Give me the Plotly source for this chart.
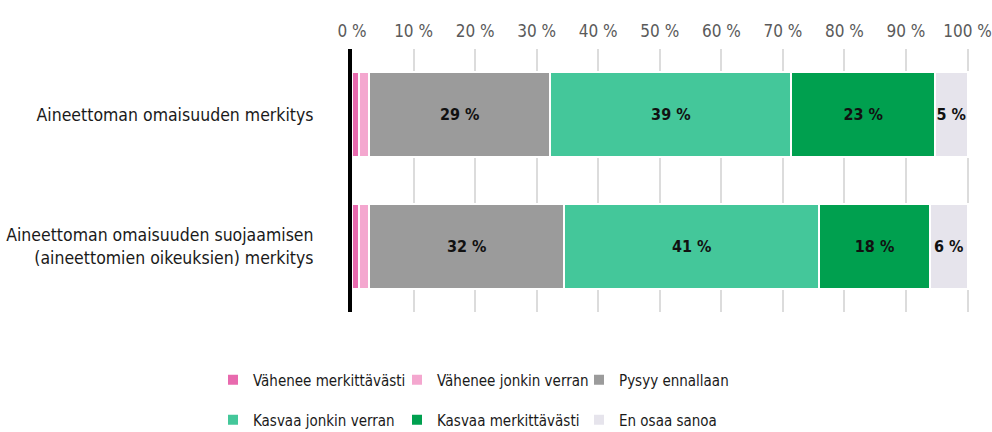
import plotly.graph_objects as go

categories = [
    "Aineettoman omaisuuden merkitys",
    "Aineettoman omaisuuden suojaamisen<br>(aineettomien oikeuksien) merkitys",
]
series_names = [
    "Vähenee merkittävästi",
    "Vähenee jonkin verran",
    "Pysyy ennallaan",
    "Kasvaa jonkin verran",
    "Kasvaa merkittävästi",
    "En osaa sanoa",
]
vahenee_merk = [1.2, 1.2]
vahenee_jonk = [1.6, 1.6]
pysyy = [29.4, 31.7]
kasvaa_jonk = [39.2, 41.4]
kasvaa_merk = [23.3, 18.0]
en_osaa = [5.3, 6.1]
series_values = [vahenee_merk, vahenee_jonk, pysyy, kasvaa_jonk, kasvaa_merk, en_osaa]
show_label = [False, False, True, True, True, True]
colors = ["#e86aae", "#f4a7cf", "#9b9b9b", "#44c79a", "#00a04f", "#e6e4ec"]
tick_vals = [0, 10, 20, 30, 40, 50, 60, 70, 80, 90, 100]
tick_text = ["0 %", "10 %", "20 %", "30 %", "40 %", "50 %", "60 %", "70 %", "80 %", "90 %", "100 %"]

FONT = "DejaVu Sans Condensed, Liberation Sans Narrow, Roboto, sans-serif"
FS = 17.5
LEG_FS = 15

W, H = 992, 432
ML, MR, MT, MB = 352, 22, 49, 120
PW, PH = W - ML - MR, H - MT - MB

# legend item placement (pixel positions of each legend box's left edge / row centre)
leg_cols_px = [213, 397, 579]
leg_rows_px = [380, 420]

fig = go.Figure()
for i, (name, vals) in enumerate(zip(series_names, series_values)):
    fig.add_trace(go.Bar(
        y=categories,
        x=vals,
        name=name,
        orientation="h",
        marker=dict(color=colors[i], line=dict(color="white", width=2)),
        text=[f"{round(v)} %" for v in vals] if show_label[i] else None,
        textposition="inside" if show_label[i] else "none",
        insidetextanchor="middle",
        textangle=0,
        constraintext="none",
        cliponaxis=False,
        textfont=dict(family=FONT, size=16, color="#111111", weight="bold"),
        legend="legend" if i == 0 else f"legend{i + 1}",
        showlegend=True,
        hoverinfo="skip",
    ))

legends = {}
for i in range(len(series_names)):
    col, row = i % 3, i // 3
    key = "legend" if i == 0 else f"legend{i + 1}"
    legends[key] = dict(
        orientation="h",
        xanchor="left",
        yanchor="middle",
        x=(leg_cols_px[col] - ML) / PW,
        y=(H - MB - leg_rows_px[row]) / PH,
        font=dict(family=FONT, size=LEG_FS, color="#1a1a1a"),
        bgcolor="rgba(0,0,0,0)",
    )

fig.update_layout(
    showlegend=True,
    barmode="stack",
    bargap=0.354,
    width=W,
    height=H,
    margin=dict(l=ML, r=MR, t=MT, b=MB, autoexpand=False),
    plot_bgcolor="white",
    paper_bgcolor="white",
    font=dict(family=FONT, size=FS, color="#1a1a1a"),
    xaxis=dict(
        side="top",
        range=[0, 100.4],
        tickvals=tick_vals,
        ticktext=tick_text,
        showgrid=True,
        gridcolor="#dcdcdc",
        gridwidth=2,
        zeroline=False,
        showline=False,
        ticks="",
        ticklabelstandoff=8,
        automargin=False,
        ticklabeloverflow="allow",
        tickfont=dict(family=FONT, size=17, color="#5a5a5a"),
    ),
    yaxis=dict(
        autorange="reversed",
        showgrid=False,
        zeroline=False,
        showline=True,
        linecolor="black",
        linewidth=4,
        ticks="outside",
        ticklen=31,
        tickcolor="rgba(0,0,0,0)",
        automargin=False,
        tickfont=dict(family=FONT, size=FS, color="#1a1a1a"),
    ),
    **legends,
)

fig.write_html(
    "out.html",
    config={"displayModeBar": False},
    post_script="document.body.style.margin='0';",
)
